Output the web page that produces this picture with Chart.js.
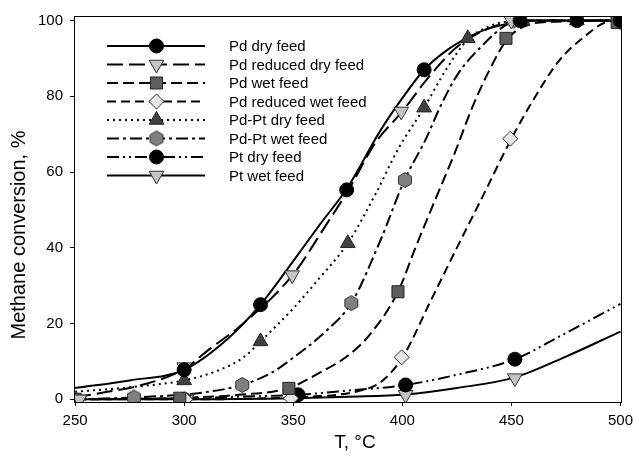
<!DOCTYPE html>
<html><head><meta charset="utf-8">
<script src="https://cdn.jsdelivr.net/npm/chart.js@4.4.1/dist/chart.umd.min.js"></script>
<style>html,body{margin:0;padding:0;background:#fff}#wrap{width:639px;height:461px}</style>
</head><body><div id="wrap"><canvas id="c" width="639" height="461"></canvas></div>
<script>
// ---- labels ----
const seriesNames = ["Pd dry feed","Pd reduced dry feed","Pd wet feed","Pd reduced wet feed","Pd-Pt dry feed","Pd-Pt wet feed","Pt dry feed","Pt wet feed"];
const xTicks = [250,300,350,400,450,500];
const yTicks = [0,20,40,60,80,100];
const xTitle = "T, °C";
const yTitle = "Methane conversion, %";

// ---- measured points (markers) ----
const pdDryT = [300,335,374.5,410,454,480,500];
const pdDryV = [7.8,25,55.3,87,100,100,100];
const pdRedDryT = [252,300,349.5,399.5,450,500];
const pdRedDryV = [0,8.5,32.8,76,100,100];
const pdWetT = [250,298,348,398,447.5,498.5];
const pdWetV = [0,0.3,2.9,28.4,95.3,99.5];
const pdRedWetT = [250,300.5,349,399.7,449.5,500];
const pdRedWetV = [0,0,0.3,11.1,68.8,99.5];
const pdPtDryT = [300,335,375,410,430,455,480,500];
const pdPtDryV = [5,15.3,41.2,77,95.3,100,100,100];
const pdPtWetT = [250,277,326.6,376.6,401.2,451,500];
const pdPtWetV = [0,0.5,3.8,25.4,57.9,100,100];
const ptDryT = [300,352.2,401.5,451.6];
const ptDryV = [0,1.2,3.8,10.6];
const ptWetT = [252,301,351,401.5,451.6];
const ptWetV = [0,0,0.3,1.2,5.6];

// ---- fitted curves ----
const pdDryCurveT = [250,275,300,320,335,350,362,375,390,400,410,420,430,440,450,460,500];
const pdDryCurveV = [3,5,7.8,16,25,36.5,46,56,71,79.5,87,92,95.5,98,99.3,100,100];
const pdRedDryCurveT = [250,263,278,300,311,326,350,365,375,388,400,412,425,440,450,460,500];
const pdRedDryCurveV = [0.5,1.8,3.4,8,13,19.5,33,46,55,68,76,85,93,98,99.6,100,100];
const pdWetCurveT = [250,275,300,325,348,362,375,385,398,406,415,424,432,440,448,456,470,500];
const pdWetCurveV = [0,0.1,0.4,1.2,3,7,11.5,17,28.4,40,52.6,65,77,87,95,98.5,99.7,100];
const pdRedWetCurveT = [250,300,340,360,370,380,390,400,413,425,436,450,460,472,484,493,500];
const pdRedWetCurveV = [0,0,0.3,0.8,1.2,2.2,4.5,11,26,40,52.6,68.8,79,89.5,96,99.5,100];
const pdPtDryCurveT = [250,275,300,315,327,335,350,362,375,388,398,410,420,430,440,450,500];
const pdPtDryCurveV = [2,3.2,5,7.5,11,15.3,24,32,41.2,54.5,66,77,87,95,98.5,99.8,100];
const pdPtWetCurveT = [250,277,300,311,326.6,340,350,365,376.6,390,401,410.6,418,425.6,436,448,455,500];
const pdPtWetCurveV = [0,0.5,1.3,2,3.8,7,11,18,25.4,42,57.9,68.5,78,86,93,99,100,100];
const ptDryCurveT = [250,300,325,352,375,401.5,425,451.6,472,500];
const ptDryCurveV = [0,0.3,0.7,1.2,2.3,3.8,6.5,10.6,16.6,25.2];
const ptWetCurveT = [250,300,351,375,401.5,425,451.6,475,500];
const ptWetCurveV = [0,0,0.3,0.7,1.3,3,5.8,11.3,17.9];

// ---- styling ----
function hexagon(r, fill){
  const c = document.createElement('canvas');
  const s = Math.ceil(2*r+3); c.width = s; c.height = s;
  const g = c.getContext('2d');
  g.beginPath();
  for (let i=0;i<6;i++){ const a = Math.PI/2 + i*Math.PI/3; const px = s/2 + r*Math.cos(a), py = s/2 + r*Math.sin(a); i?g.lineTo(px,py):g.moveTo(px,py); }
  g.closePath(); g.fillStyle = fill; g.fill(); g.lineWidth = 1; g.strokeStyle = '#333'; g.stroke();
  return c;
}
const hexImg = hexagon(7.5, '#808080');

const styles = [
  {dash:[], marker:'circle', radius:7, rot:0, fill:'#000000', stroke:'#000'},
  {dash:[16,6], marker:'triangle', radius:8.5, rot:180, fill:'#c4c4c4', stroke:'#333'},
  {dash:[11,5], marker:'rect', radius:8.5, rot:0, fill:'#5e5e5e', stroke:'#222'},
  {dash:[9,5], marker:'rectRot', radius:7.5, rot:0, fill:'#e6e6e6', stroke:'#333'},
  {dash:[2,4], marker:'triangle', radius:8.5, rot:0, fill:'#404040', stroke:'#222'},
  {dash:[12,4,3,4], marker:'hex', radius:7.5, rot:0, fill:'#808080', stroke:'#333'},
  {dash:[12,4,2,4,2,4], marker:'circle', radius:7, rot:0, fill:'#000000', stroke:'#000'},
  {dash:[], marker:'triangle', radius:8.5, rot:180, fill:'#c4c4c4', stroke:'#333'}
];

const markerSets = [[pdDryT,pdDryV],[pdRedDryT,pdRedDryV],[pdWetT,pdWetV],[pdRedWetT,pdRedWetV],[pdPtDryT,pdPtDryV],[pdPtWetT,pdPtWetV],[ptDryT,ptDryV],[ptWetT,ptWetV]];
const curveSets = [[pdDryCurveT,pdDryCurveV],[pdRedDryCurveT,pdRedDryCurveV],[pdWetCurveT,pdWetCurveV],[pdRedWetCurveT,pdRedWetCurveV],[pdPtDryCurveT,pdPtDryCurveV],[pdPtWetCurveT,pdPtWetCurveV],[ptDryCurveT,ptDryCurveV],[ptWetCurveT,ptWetCurveV]];
const zip = (xs, ys) => xs.map((x,i)=>({x:x, y:ys[i]}));

const datasets = [];
markerSets.forEach((m,i)=>{
  const s = styles[i];
  datasets.push({label: seriesNames[i], data: zip(m[0],m[1]), showLine:false, order:0,
    pointStyle: s.marker==='hex'? hexImg : s.marker, pointRadius:s.radius, pointRotation:s.rot,
    pointBackgroundColor:s.fill, pointBorderColor:s.stroke, pointBorderWidth:1, pointHoverRadius:s.radius});
});
curveSets.forEach((c,i)=>{
  const s = styles[i];
  datasets.push({label: seriesNames[i]+' fit', data: zip(c[0],c[1]), showLine:true, order:1,
    borderColor:'#000', borderWidth:2, borderDash:s.dash, pointRadius:0, pointHoverRadius:0,
    cubicInterpolationMode:'monotone', fill:false});
});

function drawMarker(ctx, s, x, y){
  ctx.save();
  ctx.fillStyle = s.fill; ctx.strokeStyle = s.stroke; ctx.lineWidth = 1; ctx.setLineDash([]);
  const r = s.radius;
  ctx.beginPath();
  if (s.marker==='circle'){ ctx.arc(x,y,r,0,Math.PI*2); }
  else if (s.marker==='triangle'){
    let a = s.rot*Math.PI/180;
    for (let k=0;k<3;k++){ const px = x+Math.sin(a)*r, py = y-Math.cos(a)*r; k?ctx.lineTo(px,py):ctx.moveTo(px,py); a += 2*Math.PI/3; }
    ctx.closePath();
  } else if (s.marker==='rect'){ const h = r*Math.SQRT1_2; ctx.rect(x-h,y-h,2*h,2*h); }
  else if (s.marker==='rectRot'){ ctx.moveTo(x,y-r); ctx.lineTo(x+r,y); ctx.lineTo(x,y+r); ctx.lineTo(x-r,y); ctx.closePath(); }
  else if (s.marker==='hex'){ ctx.restore(); ctx.drawImage(hexImg, x-hexImg.width/2, y-hexImg.height/2); return; }
  ctx.fill(); ctx.stroke();
  ctx.restore();
}

const decor = {
  id:'decor',
  afterDraw(chart){
    const ctx = chart.ctx, a = chart.chartArea;
    ctx.save();
    ctx.strokeStyle = '#000'; ctx.lineWidth = 1; ctx.setLineDash([]);
    ctx.strokeRect(Math.round(a.left)+0.5, Math.round(a.top)+0.5, Math.round(a.right-a.left), Math.round(a.bottom-a.top));
    // legend
    const x0 = 107, x1 = 205, xm = 156.5, tx = 229, y0 = 46, dy = 18.5;
    ctx.font = '15px "Liberation Sans", Arial, sans-serif';
    ctx.textBaseline = 'middle'; ctx.textAlign = 'left';
    styles.forEach((s,i)=>{
      const y = y0 + i*dy;
      ctx.save(); ctx.strokeStyle='#000'; ctx.lineWidth=2; ctx.setLineDash(s.dash);
      ctx.beginPath(); ctx.moveTo(x0,y); ctx.lineTo(x1,y); ctx.stroke(); ctx.restore();
      drawMarker(ctx, s, xm, y);
      ctx.fillStyle = '#000'; ctx.fillText(seriesNames[i], tx, y+1);
    });
    // axis titles
    ctx.fillStyle = '#000';
    ctx.font = '19px "Liberation Sans", Arial, sans-serif';
    ctx.textAlign = 'center'; ctx.textBaseline = 'middle';
    ctx.fillText(xTitle, 355, 443);
    ctx.save(); ctx.translate(19, 235); ctx.rotate(-Math.PI/2);
    ctx.font = '20px "Liberation Sans", Arial, sans-serif';
    ctx.fillText(yTitle, 0, 0); ctx.restore();
    ctx.restore();
  }
};

new Chart(document.getElementById('c'), {
  type:'line',
  data:{datasets},
  plugins:[decor],
  options:{
    responsive:false, animation:false, events:[],
    layout:{padding:{top:16, right:11, left:0, bottom:0}},
    plugins:{legend:{display:false}, tooltip:{enabled:false}},
    scales:{
      x:{type:'linear', min:249.5, max:500.2,
        afterBuildTicks(sc){ sc.ticks = xTicks.map(v=>({value:v})); },
        afterFit(sc){ sc.height = 59; },
        grid:{display:true, drawOnChartArea:false, drawTicks:true, tickLength:4, color:'#000'},
        border:{display:true, color:'#000', width:1},
        ticks:{padding:6, color:'#000', font:{family:'"Liberation Sans", Arial, sans-serif', size:15}, maxRotation:0}
      },
      y:{type:'linear', min:-0.7, max:101.2,
        afterBuildTicks(sc){ sc.ticks = yTicks.map(v=>({value:v})); },
        afterFit(sc){ sc.width = 74; },
        grid:{display:true, drawOnChartArea:false, drawTicks:true, tickLength:4, color:'#000'},
        border:{display:true, color:'#000', width:1},
        ticks:{padding:7, color:'#000', font:{family:'"Liberation Sans", Arial, sans-serif', size:15}}
      }
    }
  }
});
</script></body></html>
